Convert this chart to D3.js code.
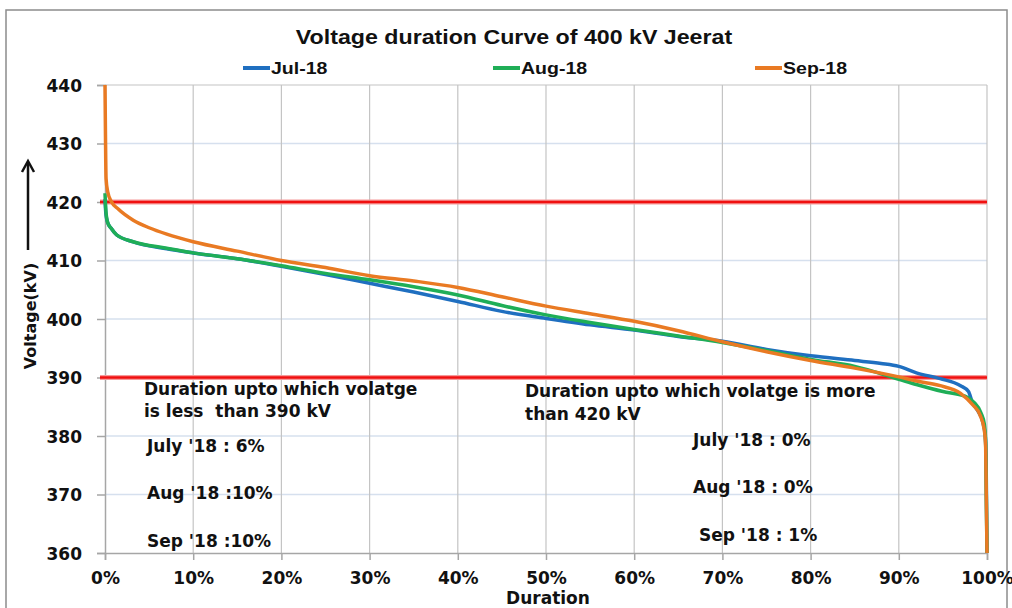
<!DOCTYPE html>
<html>
<head>
<meta charset="utf-8">
<script src="https://cdn.jsdelivr.net/npm/d3@7"></script>
<style>
  body { margin: 0; background: #fff; }
  svg text { font-weight: bold; fill: #111; }
</style>
</head>
<body>
<svg id="chart" width="1012" height="608"></svg>
<script>
// duration (%) / voltage (kV) pairs
const jul = [[0,420.5],[0.1,418],[0.3,416.5],[0.7,415.5],[1.3,414.4],[3.2,413.2],[7,412.0],[10,411.3],[15,410.3],[20,409.0],[25,407.6],[30,406.1],[35,404.6],[40,403.0],[45,401.3],[50,400.1],[55,399.0],[60,398.1],[65,397.0],[70,396.2],[75,394.8],[80,393.7],[85,392.9],[88,392.4],[90,391.9],[92,390.8],[94.7,389.8],[97,388.6],[97.9,387.6],[98.3,385.9],[99,384.2],[99.5,382.5],[99.8,380],[99.9,376],[100,360]]
const aug = [[0,421.5],[0.1,418.5],[0.3,416.5],[0.7,415.5],[1.3,414.4],[3.2,413.2],[7,412.1],[10,411.3],[15,410.3],[20,409.1],[25,407.8],[30,406.7],[35,405.5],[40,404.1],[45,402.3],[50,400.7],[55,399.4],[60,398.2],[65,397.1],[70,396.0],[75,394.6],[80,393.1],[85,391.9],[90,389.7],[92,388.8],[95,387.6],[97.5,386.8],[98.5,385.8],[99.3,384],[99.7,382],[99.85,379],[100,360]]
const sep = [[0,440],[0.05,432],[0.12,424],[0.3,421.8],[0.75,420],[1.5,418.8],[3.2,416.9],[5,415.6],[7,414.5],[10,413.2],[15,411.6],[20,410.0],[25,408.8],[30,407.4],[35,406.5],[40,405.4],[45,403.8],[50,402.2],[55,400.9],[60,399.6],[65,398.0],[70,396.1],[75,394.4],[80,392.9],[85,391.6],[90,390.1],[92,389.4],[94.7,388.6],[97,387.3],[98.4,385.3],[99.2,383.6],[99.7,381],[99.85,378],[100,360]]

const seriesNames = ["Jul-18", "Aug-18", "Sep-18"]
const seriesColors = ["#1f6fc0", "#1fae57", "#e97a23"]
const limits = [420, 390]
const yTicks = [360, 370, 380, 390, 400, 410, 420, 430, 440]
const xTicks = [0, 10, 20, 30, 40, 50, 60, 70, 80, 90, 100]

const leftNote = ["Duration upto which volatge", "is less  than 390 kV"]
const leftVals = ["July '18 : 6%", "Aug '18 :10%", "Sep '18 :10%"]
const rightNote = ["Duration upto which volatge is more", "than 420 kV"]
const rightVals = ["July '18 : 0%", "Aug '18 : 0%", "Sep '18 : 1%"]

const verdana = "'DejaVu Sans', Verdana, sans-serif"
const arial = "'Liberation Sans', Arial, sans-serif"

let svg = d3.select("#chart")

// outer chart frame
svg.append("rect")
    .attr("x", 6).attr("y", 10)
    .attr("width", 1001).attr("height", 640)
    .attr("fill", "none")
    .attr("stroke", "#8c8c8c")
    .attr("stroke-width", 1.5)

let x = d3.scaleLinear().domain([0, 100]).range([105, 987])
let y = d3.scaleLinear().domain([360, 440]).range([553, 85])

// grid
svg.append("g")
    .selectAll("line")
    .data(yTicks.slice(1, -1))
    .join("line")
    .attr("x1", x(0)).attr("x2", x(100))
    .attr("y1", d => y(d)).attr("y2", d => y(d))
    .attr("stroke", "#d6e0ee")
    .attr("stroke-width", 1.5)

svg.append("g")
    .selectAll("line")
    .data(xTicks.slice(1))
    .join("line")
    .attr("x1", d => x(d)).attr("x2", d => x(d))
    .attr("y1", y(440)).attr("y2", y(360))
    .attr("stroke", "#c4c4c4")
    .attr("stroke-width", 1.2)

svg.append("line")
    .attr("x1", x(0)).attr("x2", x(100))
    .attr("y1", y(440)).attr("y2", y(440))
    .attr("stroke", "#c4c4c4").attr("stroke-width", 1.2)

// axes
let yAxis = svg.append("g")
    .attr("transform", `translate(${x(0)},0)`)
    .call(d3.axisLeft(y).tickValues(yTicks).tickSize(8).tickPadding(15))
let xAxis = svg.append("g")
    .attr("transform", `translate(0,${y(360)})`)
    .call(d3.axisBottom(x).tickValues(xTicks).tickSize(7).tickPadding(12).tickFormat(d => d + "%"))

for (const g of [yAxis, xAxis]) {
    g.selectAll("path").attr("stroke", "#a6a6a6").attr("stroke-width", 1.5)
    g.selectAll("line").attr("stroke", "#a6a6a6").attr("stroke-width", 1.5)
    g.selectAll("text")
        .style("font-family", verdana)
        .attr("font-weight", "bold")
        .attr("font-size", 17)
        .attr("fill", "#111")
}
yAxis.selectAll("text").attr("dy", "0.36em")

// limit lines (halo + core)
svg.append("g")
    .selectAll("line")
    .data(limits)
    .join("line")
    .attr("x1", 100).attr("x2", x(100))
    .attr("y1", d => y(d)).attr("y2", d => y(d))
    .attr("stroke", "#f59a9a")
    .attr("stroke-width", 5)
svg.append("g")
    .selectAll("line")
    .data(limits)
    .join("line")
    .attr("x1", 100).attr("x2", x(100))
    .attr("y1", d => y(d)).attr("y2", d => y(d))
    .attr("stroke", "#f01010")
    .attr("stroke-width", 2.5)

// curves
let line = d3.line()
    .x(d => x(d[0]))
    .y(d => y(d[1]))
    .curve(d3.curveMonotoneX)

svg.append("g")
    .selectAll("path")
    .data([jul, aug, sep])
    .join("path")
    .attr("d", line)
    .attr("fill", "none")
    .attr("stroke", (d, i) => seriesColors[i])
    .attr("stroke-width", 3.5)
    .attr("stroke-linejoin", "round")

// title
svg.append("text")
    .attr("transform", "translate(514,44) scale(1.16,1)")
    .attr("text-anchor", "middle")
    .style("font-family", arial)
    .attr("font-size", 20)
    .text("Voltage duration Curve of 400 kV Jeerat")

// legend
let legendX = [243, 493, 755]
let legend = svg.append("g")
    .selectAll("g")
    .data(seriesNames)
    .join("g")
    .attr("transform", (d, i) => `translate(${legendX[i]},68)`)
legend.append("line")
    .attr("x1", 0).attr("x2", 27)
    .attr("stroke", (d, i) => seriesColors[i])
    .attr("stroke-width", 4)
legend.append("text")
    .attr("transform", "translate(28,6) scale(1.15,1)")
    .style("font-family", arial)
    .attr("font-size", 17)
    .text(d => d)

// axis titles
svg.append("text")
    .attr("transform", "translate(36,316) rotate(-90)")
    .attr("text-anchor", "middle")
    .style("font-family", verdana)
    .attr("font-size", 16)
    .text("Voltage(kV)")

svg.append("text")
    .attr("x", 548).attr("y", 604)
    .attr("text-anchor", "middle")
    .style("font-family", verdana)
    .attr("font-size", 17)
    .text("Duration")

// arrow next to the y label
svg.append("line")
    .attr("x1", 28).attr("x2", 28)
    .attr("y1", 250).attr("y2", 162)
    .attr("stroke", "#111").attr("stroke-width", 2.5)
svg.append("path")
    .attr("d", "M22,172 L28,161 L34,172")
    .attr("fill", "none")
    .attr("stroke", "#111").attr("stroke-width", 2.5)

// notes
function note(lines, x0, ys) {
    svg.append("g")
        .selectAll("text")
        .data(lines)
        .join("text")
        .attr("x", (d, i) => Array.isArray(x0) ? x0[i] : x0)
        .attr("y", (d, i) => ys[i])
        .style("font-family", verdana)
        .attr("font-size", 17)
        .style("white-space", "pre")
        .text(d => d)
}
note(leftNote, 144, [395, 417])
note(leftVals, 147, [452, 499, 547])
note(rightNote, 525, [397, 420])
note(rightVals, [693, 693, 699], [446, 493, 541])
</script>
</body>
</html>
